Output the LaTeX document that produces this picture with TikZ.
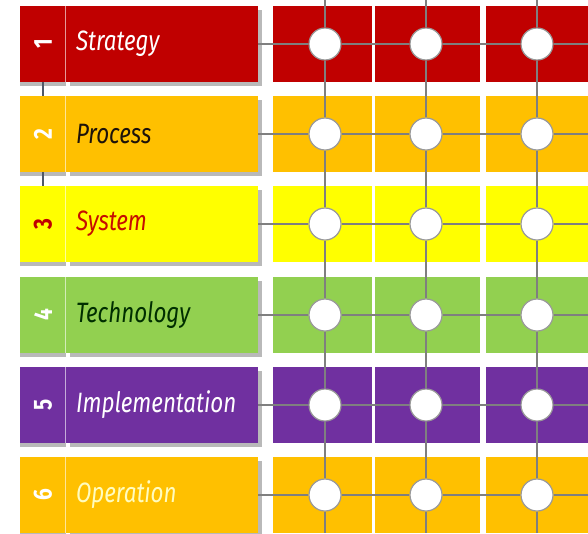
\documentclass[tikz,border=0pt]{standalone}
\usepackage{fontspec}
\usetikzlibrary{shadows}
\newfontfamily\layerfont[FakeStretch=0.8]{Fira Sans}
\definecolor{layerred}{HTML}{C00000}
\definecolor{layeramber}{HTML}{FFC000}
\definecolor{layeryellow}{HTML}{FFFF00}
\definecolor{layergreen}{HTML}{92D050}
\definecolor{layerpurple}{HTML}{7030A0}
\definecolor{gridgray}{HTML}{7F7F7F}
\definecolor{spinegray}{HTML}{4F5868}
\newcommand{\layertext}{\layerfont\itshape\fontsize{28}{30}\selectfont}
\newcommand{\numtext}{\layerfont\bfseries\fontsize{26}{28}\selectfont}

\begin{document}
\begin{tikzpicture}[x=1pt,y=-1pt,
  numbox/.style={fill=#1,minimum width=46pt,minimum height=76pt,inner sep=0pt,outer sep=0pt,font=\numtext,
    drop shadow={shadow xshift=0pt,shadow yshift=-4pt,fill=gray!55,opacity=1},
    path picture={\draw[white,opacity=0.6,line width=1.2pt] (path picture bounding box.north east) -- (path picture bounding box.south east);}},
  namebox/.style={fill=#1,minimum width=192pt,minimum height=76pt,inner xsep=10pt,inner ysep=0pt,outer sep=0pt,
    text width=172pt,align=left,font=\layertext,
    drop shadow={shadow xshift=4pt,shadow yshift=-4pt,fill=gray!55,opacity=1}},
  cell/.style={fill=#1,minimum height=76pt,inner sep=0pt,outer sep=0pt},
  junction/.style={circle,fill=white,draw=gridgray!80,line width=1.2pt,minimum size=32pt,inner sep=0pt},
  gridline/.style={draw=gridgray,line width=1.6pt},
  spine/.style={draw=spinegray,line width=2pt}]
\useasboundingbox[fill=white] (0,0) rectangle (588,533);

% layer labels
\node[numbox=layerred,text=white] (n1) at (43,44) {\rotatebox{90}{1}};
\node[namebox=layerred,text=white] (l1) at (162,44) {Strategy};
\node[numbox=layeramber,text=white] (n2) at (43,134) {\rotatebox{90}{2}};
\node[namebox=layeramber,text=black!85!brown] (l2) at (162,134) {Process};
\node[numbox=layeryellow,text=layerred] (n3) at (43,224) {\rotatebox{90}{3}};
\node[namebox=layeryellow,text=red!75!black!90!orange] (l3) at (162,224) {System};
\node[numbox=layergreen,text=white] (n4) at (43,315) {\rotatebox{90}{4}};
\node[namebox=layergreen,text=black!70!green!60!black] (l4) at (162,315) {Technology};
\node[numbox=layerpurple,text=white] (n5) at (43,405) {\rotatebox{90}{5}};
\node[namebox=layerpurple,text=white] (l5) at (162,405) {Implementation};
\node[numbox=layeramber,text=white] (n6) at (43,495) {\rotatebox{90}{6}};
\node[namebox=layeramber,text=yellow!25] (l6) at (162,495) {Operation};

\draw[spine] (n1) -- (n2) -- (n3);

% coloured cells behind the grid
\node[cell=layerred,minimum width=99pt] at (322.5,44) {};
\node[cell=layerred,minimum width=105pt] at (427.5,44) {};
\node[cell=layerred,minimum width=104pt] at (538,44) {};
\node[cell=layeramber,minimum width=99pt] at (322.5,134) {};
\node[cell=layeramber,minimum width=105pt] at (427.5,134) {};
\node[cell=layeramber,minimum width=104pt] at (538,134) {};
\node[cell=layeryellow,minimum width=99pt] at (322.5,224) {};
\node[cell=layeryellow,minimum width=105pt] at (427.5,224) {};
\node[cell=layeryellow,minimum width=104pt] at (538,224) {};
\node[cell=layergreen,minimum width=99pt] at (322.5,315) {};
\node[cell=layergreen,minimum width=105pt] at (427.5,315) {};
\node[cell=layergreen,minimum width=104pt] at (538,315) {};
\node[cell=layerpurple,minimum width=99pt] at (322.5,405) {};
\node[cell=layerpurple,minimum width=105pt] at (427.5,405) {};
\node[cell=layerpurple,minimum width=104pt] at (538,405) {};
\node[cell=layeramber,minimum width=99pt] at (322.5,495) {};
\node[cell=layeramber,minimum width=105pt] at (427.5,495) {};
\node[cell=layeramber,minimum width=104pt] at (538,495) {};

% junctions
\node[junction] (c11) at (325,44) {};
\node[junction] (c12) at (426,44) {};
\node[junction] (c13) at (537,44) {};
\node[junction] (c21) at (325,134) {};
\node[junction] (c22) at (426,134) {};
\node[junction] (c23) at (537,134) {};
\node[junction] (c31) at (325,224) {};
\node[junction] (c32) at (426,224) {};
\node[junction] (c33) at (537,224) {};
\node[junction] (c41) at (325,315) {};
\node[junction] (c42) at (426,315) {};
\node[junction] (c43) at (537,315) {};
\node[junction] (c51) at (325,405) {};
\node[junction] (c52) at (426,405) {};
\node[junction] (c53) at (537,405) {};
\node[junction] (c61) at (325,495) {};
\node[junction] (c62) at (426,495) {};
\node[junction] (c63) at (537,495) {};

% loose ends at the picture edges
\coordinate (t1) at (325,0);
\coordinate (t2) at (426,0);
\coordinate (t3) at (537,0);
\coordinate (b1) at (325,533);
\coordinate (b2) at (426,533);
\coordinate (b3) at (537,533);
\coordinate (e1) at (588,44);
\coordinate (e2) at (588,134);
\coordinate (e3) at (588,224);
\coordinate (e4) at (588,315);
\coordinate (e5) at (588,405);
\coordinate (e6) at (588,495);

\draw[gridline] (l1) -- (c11) -- (c12) -- (c13) -- (e1);
\draw[gridline] (l2) -- (c21) -- (c22) -- (c23) -- (e2);
\draw[gridline] (l3) -- (c31) -- (c32) -- (c33) -- (e3);
\draw[gridline] (l4) -- (c41) -- (c42) -- (c43) -- (e4);
\draw[gridline] (l5) -- (c51) -- (c52) -- (c53) -- (e5);
\draw[gridline] (l6) -- (c61) -- (c62) -- (c63) -- (e6);
\draw[gridline] (t1) -- (c11) -- (c21) -- (c31) -- (c41) -- (c51) -- (c61) -- (b1);
\draw[gridline] (t2) -- (c12) -- (c22) -- (c32) -- (c42) -- (c52) -- (c62) -- (b2);
\draw[gridline] (t3) -- (c13) -- (c23) -- (c33) -- (c43) -- (c53) -- (c63) -- (b3);
\end{tikzpicture}
\end{document}
